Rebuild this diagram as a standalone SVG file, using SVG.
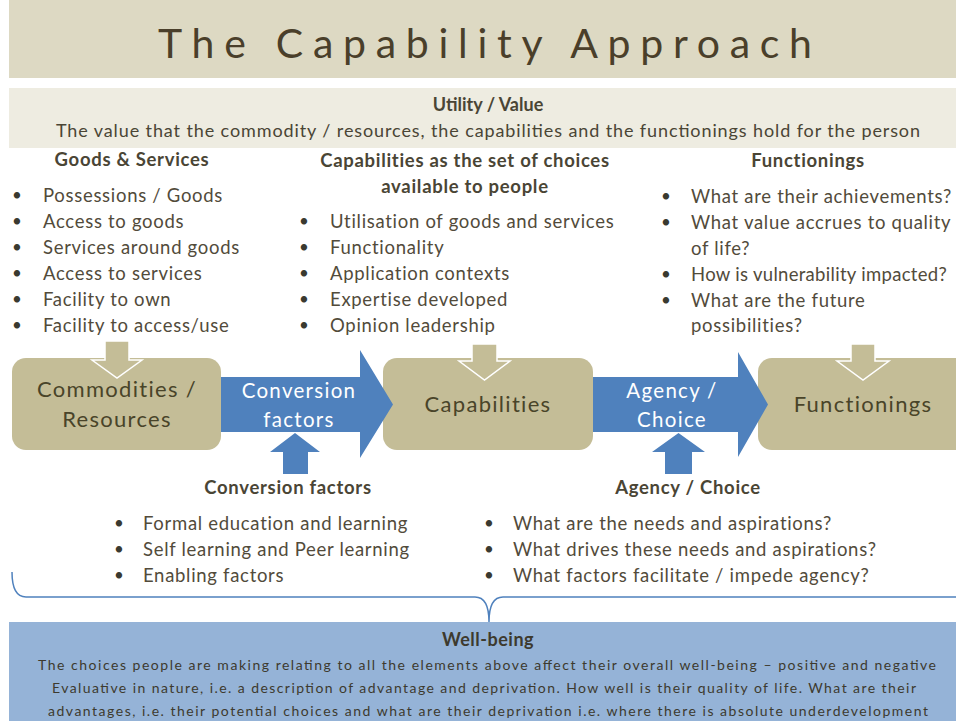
<svg xmlns="http://www.w3.org/2000/svg" width="956" height="721" viewBox="0 0 956 721">
<style>
  text { font-family: Lato, "Liberation Sans", sans-serif; }
  .title { font-size: 41px; fill: #4a3f2a; }
  .hd { font-size: 18.5px; letter-spacing: 0.7px; font-weight: bold; fill: #4a4535; text-anchor: middle; }
  .bl { font-size: 18.5px; letter-spacing: 0.7px; fill: #524b3b; }
  .dot { font-size: 17px; fill: #3a3a30; }
  .box { fill: #c4bd97; }
  .boxt { font-size: 22px; letter-spacing: 1.3px; fill: #494429; text-anchor: middle; }
  .arrt { font-size: 20.5px; letter-spacing: 1.3px; fill: #ffffff; text-anchor: middle; }
  .blue { fill: #4f81bd; }
  .tan { fill: #c4bd97; stroke: #ffffff; stroke-width: 1.5; }
  .wb { font-size: 14px; fill: #3d3a2e; text-anchor: middle; }
</style>
<rect x="0" y="0" width="956" height="721" fill="#ffffff"/>
<g id="title">
  <rect x="9" y="0" width="947" height="78" fill="#ddd9c3"/>
  <text class="title" x="158" y="58" textLength="654" lengthAdjust="spacing">The Capability Approach</text>
</g>
<g id="utility">
  <rect x="9" y="88" width="947" height="60" fill="#eeece1"/>
  <text x="488" y="111" style="font-size:18px;font-weight:bold;fill:#4a4535;text-anchor:middle">Utility / Value</text>
  <text x="488" y="137" style="font-size:18px;fill:#4a4535;text-anchor:middle" textLength="864" lengthAdjust="spacing">The value that the commodity / resources, the capabilities and the functionings hold for the person</text>
</g>
<g id="goods-services">
  <text class="hd" x="132" y="166">Goods &amp; Services</text>
  <g class="dot"><text x="12" y="201">•</text><text x="12" y="227">•</text><text x="12" y="253">•</text><text x="12" y="279">•</text><text x="12" y="305">•</text><text x="12" y="331">•</text></g>
  <text class="bl" x="43" y="202">Possessions / Goods</text>
  <text class="bl" x="43" y="228">Access to goods</text>
  <text class="bl" x="43" y="254">Services around goods</text>
  <text class="bl" x="43" y="280">Access to services</text>
  <text class="bl" x="43" y="306">Facility to own</text>
  <text class="bl" x="43" y="332">Facility to access/use</text>
</g>
<g id="capabilities-set">
  <text class="hd" x="465" y="167">Capabilities as the set of choices</text>
  <text class="hd" x="465" y="193">available to people</text>
  <g class="dot"><text x="299" y="227">•</text><text x="299" y="253">•</text><text x="299" y="279">•</text><text x="299" y="305">•</text><text x="299" y="331">•</text></g>
  <text class="bl" x="330" y="228">Utilisation of goods and services</text>
  <text class="bl" x="330" y="254">Functionality</text>
  <text class="bl" x="330" y="280">Application contexts</text>
  <text class="bl" x="330" y="306">Expertise developed</text>
  <text class="bl" x="330" y="332">Opinion leadership</text>
</g>
<g id="functionings-list">
  <text class="hd" x="808" y="167">Functionings</text>
  <g class="dot"><text x="661" y="202">•</text><text x="661" y="228">•</text><text x="661" y="280">•</text><text x="661" y="306">•</text></g>
  <text class="bl" x="691" y="203">What are their achievements?</text>
  <text class="bl" x="691" y="229">What value accrues to quality</text>
  <text class="bl" x="691" y="255">of life?</text>
  <text class="bl" x="691" y="281" style="letter-spacing:0.3px">How is vulnerability impacted?</text>
  <text class="bl" x="691" y="307">What are the future</text>
  <text class="bl" x="691" y="332">possibilities?</text>
</g>
<g id="commodities">
  <rect class="box" x="12" y="358" width="209" height="92" rx="14"/>
  <path class="tan" d="M105,341 H129 V360 H142 L117,378 L92,360 H105 Z"/>
  <text class="boxt" x="117" y="397">Commodities /</text>
  <text class="boxt" x="117" y="427">Resources</text>
</g>
<g id="capabilities">
  <rect class="box" x="383" y="358" width="210" height="92" rx="14"/>
  <path class="tan" d="M472,344 H497 V361 H510 L484.5,380 L459,361 H472 Z"/>
  <text class="boxt" x="488" y="412">Capabilities</text>
</g>
<g id="functionings">
  <rect class="box" x="758" y="358" width="215" height="92" rx="14"/>
  <path class="tan" d="M851,344 H875 V361 H889 L863,380 L837,361 H851 Z"/>
  <text class="boxt" x="863" y="412">Functionings</text>
</g>
<g id="connectors">
  <path class="blue" d="M221,377 H360 V350 L393,404.5 L360,458 V432 H221 Z"/>
  <text class="arrt" x="299" y="398">Conversion</text>
  <text class="arrt" x="299" y="427">factors</text>
  <path class="blue" d="M593,377 H738 V352 L768,404.5 L738,457 V432 H593 Z"/>
  <text class="arrt" x="672" y="398">Agency /</text>
  <text class="arrt" x="672" y="427">Choice</text>
  <path class="blue" d="M283,474 V452 H270 L295,433 L320,452 H308 V474 Z"/>
  <path class="blue" d="M665,474 V452 H652 L678.5,433 L705,452 H692 V474 Z"/>
  <path d="M12,572 Q12,597 26,597 L475,597 Q489,597 489,622 Q489,597 503,597 L960,597" fill="none" stroke="#4f81bd" stroke-width="1.5"/>
</g>
<g id="conversion-factors">
  <text class="hd" x="288" y="494">Conversion factors</text>
  <g class="dot"><text x="114" y="529">•</text><text x="114" y="555">•</text><text x="114" y="581">•</text></g>
  <text class="bl" x="143" y="530">Formal education and learning</text>
  <text class="bl" x="143" y="556">Self learning and Peer learning</text>
  <text class="bl" x="143" y="582">Enabling factors</text>
</g>
<g id="agency-choice">
  <text class="hd" x="688" y="494">Agency / Choice</text>
  <g class="dot"><text x="484" y="529">•</text><text x="484" y="555">•</text><text x="484" y="581">•</text></g>
  <text class="bl" x="513" y="530">What are the needs and aspirations?</text>
  <text class="bl" x="513" y="556">What drives these needs and aspirations?</text>
  <text class="bl" x="513" y="582">What factors facilitate / impede agency?</text>
</g>
<g id="well-being">
  <rect x="9" y="622" width="947" height="99" fill="#95b3d7"/>
  <text x="488" y="646" style="font-size:18px;letter-spacing:0.5px;font-weight:bold;fill:#3d3a2e;text-anchor:middle">Well-being</text>
  <text class="wb" x="487" y="670" textLength="898" lengthAdjust="spacing">The choices people are making relating to all the elements above affect their overall well-being – positive and negative</text>
  <text class="wb" x="484" y="693" textLength="864" lengthAdjust="spacing">Evaluative in nature, i.e. a description of advantage and deprivation. How well is their quality of life. What are their</text>
  <text class="wb" x="488" y="716" textLength="880" lengthAdjust="spacing">advantages, i.e. their potential choices and what are their deprivation i.e. where there is absolute underdevelopment</text>
</g>
</svg>
